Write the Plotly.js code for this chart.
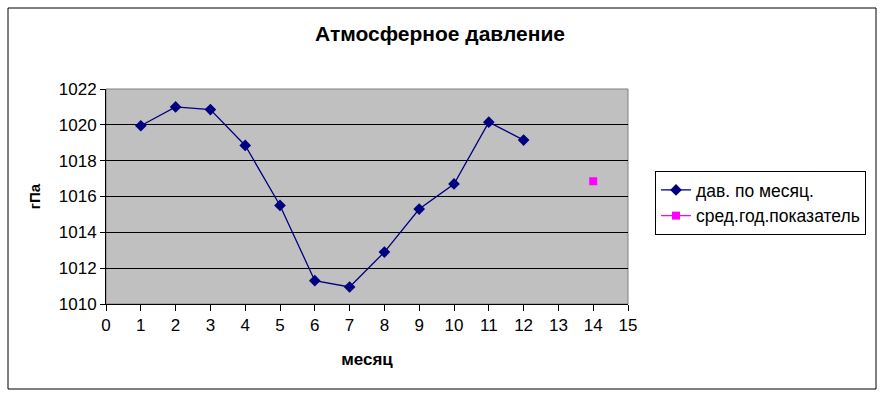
<!DOCTYPE html>
<html>
<head>
<meta charset="utf-8">
<script src="https://cdn.plot.ly/plotly-3.0.1.min.js"></script>
<style>
html,body{margin:0;padding:0;background:#fff;}
#chart{width:882px;height:397px;}
</style>
</head>
<body>
<div id="chart"></div>
<script>
// Data
const months = [1, 2, 3, 4, 5, 6, 7, 8, 9, 10, 11, 12];
const pressure = [1019.95, 1021.0, 1020.85, 1018.85, 1015.5, 1011.3, 1010.95, 1012.9, 1015.3, 1016.7, 1020.15, 1019.15];
const avgX = [14];
const avgY = [1016.85];
const seriesNames = ["дав. по месяц.", "сред.год.показатель"];
const xTicks = [0, 1, 2, 3, 4, 5, 6, 7, 8, 9, 10, 11, 12, 13, 14, 15];
const yTicks = [1010, 1012, 1014, 1016, 1018, 1020, 1022];

const FONT = "Liberation Sans, Arial, sans-serif";

const traces = [
  {
    x: months, y: pressure, name: seriesNames[0],
    type: "scatter", mode: "lines+markers",
    line: {color: "#000080", width: 1.3},
    marker: {symbol: "diamond", size: 9, color: "#000080"}
  },
  {
    x: avgX, y: avgY, name: seriesNames[1],
    type: "scatter", mode: "lines+markers",
    line: {color: "#FF00FF", width: 1.3},
    marker: {symbol: "square", size: 8, color: "#FF00FF"}
  }
];

const L = 106, R = 628, T = 89, B = 304, W = 882, H = 397;
const pw = R - L, ph = B - T;
function px(x) { return (x - L) / pw; }
function py(y) { return (B - y) / ph; }

const layout = {
  width: W, height: H,
  margin: {l: L, r: W - R, t: T, b: H - B, pad: 0},
  paper_bgcolor: "#ffffff",
  plot_bgcolor: "#C0C0C0",
  showlegend: true,
  font: {family: FONT, color: "#000", size: 14},
  title: {
    text: "<b>Атмосферное давление</b>",
    font: {family: FONT, size: 21, color: "#000"},
    x: 440 / W, xref: "container", xanchor: "center",
    y: 1 - 34 / H, yref: "container", yanchor: "middle"
  },
  xaxis: {
    range: [0, 15],
    tickvals: xTicks, ticktext: xTicks.map(String),
    showgrid: false, zeroline: false,
    showline: true, linecolor: "#000", linewidth: 1,
    ticks: "outside", ticklen: 6, tickcolor: "#000", tickwidth: 1,
    tickfont: {family: FONT, size: 17, color: "#000"},
    title: {text: "<b>месяц</b>", font: {family: FONT, size: 17, color: "#000"}, standoff: 18},
    fixedrange: true
  },
  yaxis: {
    range: [1010, 1022],
    tickvals: yTicks, ticktext: yTicks.map(String),
    showgrid: true, gridcolor: "#000", gridwidth: 1.2,
    zeroline: false,
    showline: true, linecolor: "#000", linewidth: 1,
    ticks: "outside", ticklen: 5, tickcolor: "#000", tickwidth: 1,
    tickfont: {family: FONT, size: 17, color: "#000"},
    title: {text: "<b>гПа</b>", font: {family: FONT, size: 15, color: "#000"}, standoff: 14},
    fixedrange: true
  },
  legend: {
    x: px(655), y: py(171), xanchor: "left", yanchor: "top",
    xref: "paper", yref: "paper",
    bgcolor: "#ffffff", bordercolor: "#000", borderwidth: 1,
    font: {family: FONT, size: 17.5, color: "#000"},
    tracegroupgap: 0, itemwidth: 30
  },
  shapes: [
    {type: "rect", xref: "paper", yref: "paper", x0: 0, x1: 1, y0: 0, y1: 1,
     line: {color: "#808080", width: 1}, fillcolor: "rgba(0,0,0,0)", layer: "below"},
    {type: "rect", xref: "paper", yref: "paper",
     x0: px(8), x1: px(876), y0: py(389), y1: py(8),
     line: {color: "#000", width: 1}, fillcolor: "rgba(0,0,0,0)"}
  ]
};

Plotly.newPlot("chart", traces, layout, {displayModeBar: false, staticPlot: true});
</script>
</body>
</html>
